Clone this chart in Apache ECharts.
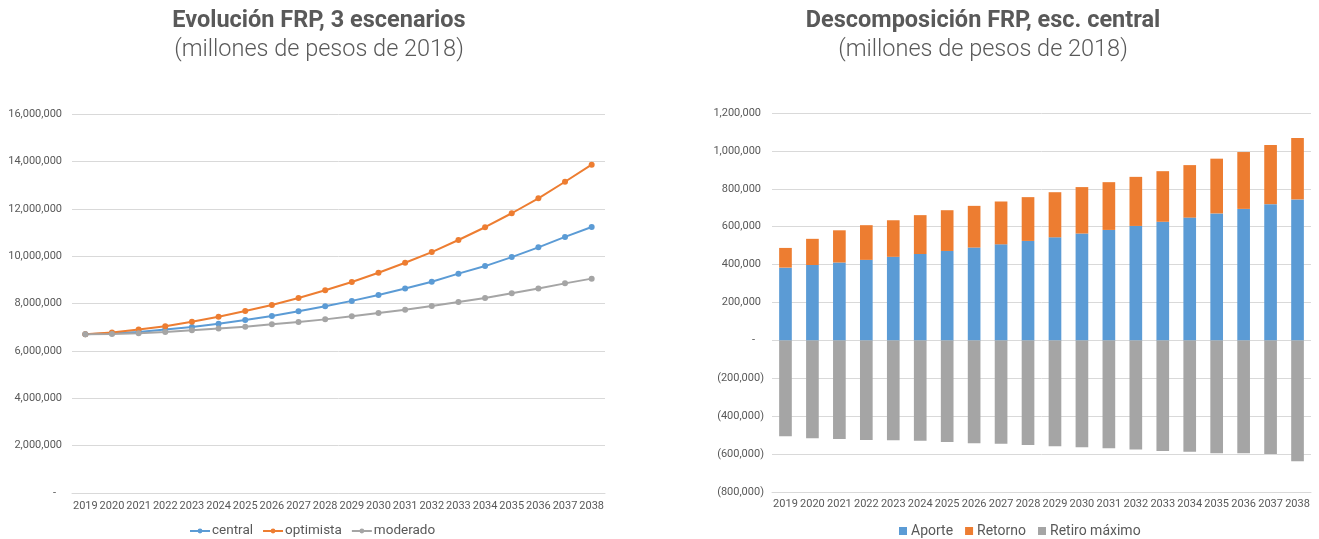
<!DOCTYPE html>
<html>
<head>
<meta charset="utf-8">
<title>FRP</title>
<script src="https://cdn.jsdelivr.net/npm/echarts@6/dist/echarts.min.js"></script>
<style>
  html, body { margin: 0; padding: 0; background: #ffffff; }
  #chart { width: 1319px; height: 539px; }
</style>
</head>
<body>
<div id="chart"></div>
<script>
// Years shared by both panels
const years = ['2019','2020','2021','2022','2023','2024','2025','2026','2027','2028',
               '2029','2030','2031','2032','2033','2034','2035','2036','2037','2038'];

// Left panel: FRP balance under three scenarios (millions of 2018 pesos)
const central   = [6700000, 6740000, 6800000, 6900000, 7010000, 7150000, 7300000, 7470000, 7670000, 7880000,
                   8110000, 8360000, 8630000, 8920000, 9260000, 9580000, 9960000, 10370000, 10810000, 11230000];
const optimista = [6700000, 6780000, 6900000, 7040000, 7230000, 7440000, 7680000, 7940000, 8230000, 8560000,
                   8910000, 9300000, 9720000, 10170000, 10680000, 11220000, 11810000, 12440000, 13140000, 13860000];
const moderado  = [6700000, 6710000, 6740000, 6800000, 6870000, 6940000, 7020000, 7120000, 7220000, 7330000,
                   7460000, 7600000, 7740000, 7890000, 8060000, 8230000, 8430000, 8630000, 8850000, 9050000];

// Right panel: breakdown of the central scenario
const aporte  = [384000, 398000, 411000, 425000, 441000, 456000, 472000, 490000, 507000, 525000,
                 544000, 564000, 583000, 604000, 626000, 648000, 670000, 694000, 719000, 744000];
const retorno = [104000, 138000, 170000, 183000, 193000, 205000, 215000, 220000, 226000, 231000,
                 238000, 245000, 252000, 259000, 267000, 277000, 289000, 300000, 312000, 324000];
const retiro  = [-506000, -516000, -520000, -525000, -527000, -530000, -536000, -543000, -546000, -552000,
                 -559000, -564000, -569000, -576000, -583000, -587000, -596000, -596000, -599000, -638000];

const textColor = '#595959';
const gridColor = '#d9d9d9';
const font = 'Roboto';

// Accounting-style tick labels: 1,000 / (1,000) / -
function acct(v) {
  if (v === 0) return '{z|-}';
  const s = Math.abs(v).toLocaleString('en-US');
  return v < 0 ? '{n|(' + s + ')}' : '{p|' + s + '}';
}
const labelRich = {
  p: { fontFamily: font, fontSize: 11, color: textColor, padding: [0, 3, 0, 0] },
  n: { fontFamily: font, fontSize: 11, color: textColor },
  z: { fontFamily: font, fontSize: 11, color: textColor, padding: [0, 9, 0, 0] }
};

function titleBlock(center, main, sub) {
  return [
    { text: main, left: center, textAlign: 'center', top: 7, padding: 0,
      textStyle: { fontFamily: font, fontSize: 23.5, fontWeight: 'bold', color: textColor, lineHeight: 28 } },
    { text: sub, left: center, textAlign: 'center', top: 36, padding: 0,
      textStyle: { fontFamily: font, fontSize: 23.5, fontWeight: 300, color: textColor, lineHeight: 28 } }
  ];
}

const chart = echarts.init(document.getElementById('chart'), null, { renderer: 'canvas' });

const lineSeries = (name, data, color) => ({
  name, type: 'line', xAxisIndex: 0, yAxisIndex: 0, data,
  symbol: 'circle', symbolSize: 6,
  lineStyle: { color, width: 2 },
  itemStyle: { color },
  animation: false
});

const barSeries = (name, data, color) => ({
  name, type: 'bar', xAxisIndex: 1, yAxisIndex: 1, data,
  stack: 'frp', barWidth: '47%',
  itemStyle: { color },
  animation: false
});

chart.setOption({
  animation: false,
  textStyle: { fontFamily: font },
  title: [
    ...titleBlock(319, 'Evolución FRP, 3 escenarios', '(millones de pesos de 2018)'),
    ...titleBlock(983, 'Descomposición FRP, esc. central', '(millones de pesos de 2018)')
  ],
  legend: [
    {
      data: ['central', 'optimista', 'moderado'],
      left: 184, top: 519,
      itemWidth: 20, itemHeight: 6, itemGap: 9,
      textStyle: { fontFamily: font, fontSize: 13.5, color: textColor, padding: [0, 0, 0, -3] }
    },
    {
      data: ['Aporte', 'Retorno', 'Retiro máximo'],
      left: 894, top: 519,
      itemWidth: 8, itemHeight: 8, itemGap: 12,
      icon: 'rect',
      textStyle: { fontFamily: font, fontSize: 14, color: textColor, padding: [0, 0, 0, -1] }
    }
  ],
  grid: [
    { left: 72, right: 714, top: 114, bottom: 46 },
    { left: 772, right: 8, top: 113, bottom: 47 }
  ],
  xAxis: [
    {
      gridIndex: 0, type: 'category', data: years, boundaryGap: true,
      axisLine: { lineStyle: { color: gridColor } }, axisTick: { show: false },
      axisLabel: { fontFamily: font, fontSize: 11, color: textColor, margin: 8, interval: 0 }
    },
    {
      gridIndex: 1, type: 'category', data: years, boundaryGap: true,
      axisLine: { onZero: false, lineStyle: { color: gridColor } }, axisTick: { show: false },
      axisLabel: { fontFamily: font, fontSize: 11, color: textColor, margin: 7, interval: 0 }
    }
  ],
  yAxis: [
    {
      gridIndex: 0, type: 'value', min: 0, max: 16000000, interval: 2000000,
      axisLine: { show: false }, axisTick: { show: false },
      splitLine: { lineStyle: { color: gridColor, width: 1 } },
      axisLabel: { margin: 7, formatter: acct, rich: labelRich }
    },
    {
      gridIndex: 1, type: 'value', min: -800000, max: 1200000, interval: 200000,
      axisLine: { show: false }, axisTick: { show: false },
      splitLine: { lineStyle: { color: gridColor, width: 1 } },
      axisLabel: { margin: 8, formatter: acct, rich: labelRich }
    }
  ],
  series: [
    lineSeries('central', central, '#5b9bd5'),
    lineSeries('optimista', optimista, '#ed7d31'),
    lineSeries('moderado', moderado, '#a5a5a5'),
    barSeries('Aporte', aporte, '#5b9bd5'),
    barSeries('Retorno', retorno, '#ed7d31'),
    barSeries('Retiro máximo', retiro, '#a5a5a5')
  ]
});
</script>
</body>
</html>
